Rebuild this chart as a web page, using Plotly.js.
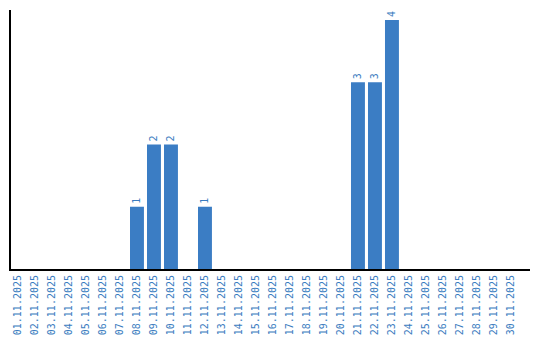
<!DOCTYPE html>
<html>
<head>
<meta charset="utf-8">
<script src="https://cdn.plot.ly/plotly-3.0.1.min.js"></script>
<style>html,body{margin:0;padding:0;background:#fff;}#chart{width:540px;height:340px;}</style>
</head>
<body>
<div id="chart"></div>
<script>
var dates = ["01.11.2025","02.11.2025","03.11.2025","04.11.2025","05.11.2025","06.11.2025","07.11.2025","08.11.2025","09.11.2025","10.11.2025","11.11.2025","12.11.2025","13.11.2025","14.11.2025","15.11.2025","16.11.2025","17.11.2025","18.11.2025","19.11.2025","20.11.2025","21.11.2025","22.11.2025","23.11.2025","24.11.2025","25.11.2025","26.11.2025","27.11.2025","28.11.2025","29.11.2025","30.11.2025"];
var counts = [0,0,0,0,0,0,0,1,2,2,0,1,0,0,0,0,0,0,0,0,3,3,4,0,0,0,0,0,0,0];
var labels = counts.map(function(v){ return v > 0 ? String(v) : ""; });

var trace = {
  type: "bar",
  x: dates,
  y: counts,
  text: labels,
  textposition: "outside",
  textangle: -90,
  cliponaxis: false,
  textfont: {family: "DejaVu Sans Mono", size: 10, color: "#3a7cc0"},
  marker: {color: "#3b7dc4"},
  hoverinfo: "none"
};

var layout = {
  width: 540, height: 340,
  margin: {l: 11, r: 10, t: 10, b: 71, pad: 0},
  paper_bgcolor: "#fff", plot_bgcolor: "#fff",
  showlegend: false,
  bargap: 0.18,
  xaxis: {
    type: "category",
    range: [-0.41, 30.12],
    showgrid: false, zeroline: false,
    showline: true, linecolor: "#000", linewidth: 2,
    ticks: "", tickangle: -90,
    tickfont: {family: "DejaVu Sans Mono", size: 10, color: "#3a7cc0"},
    fixedrange: true
  },
  yaxis: {
    range: [0, 4.16],
    showgrid: false, zeroline: false,
    showline: true, linecolor: "#000", linewidth: 2,
    showticklabels: false, ticks: "",
    fixedrange: true
  }
};

Plotly.newPlot("chart", [trace], layout, {displayModeBar: false, staticPlot: true});
</script>
</body>
</html>
